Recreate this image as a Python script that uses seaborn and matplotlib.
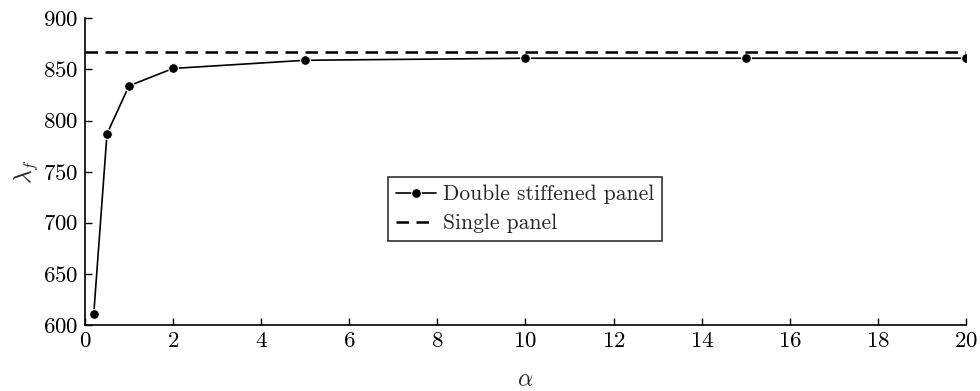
import matplotlib
matplotlib.use("Agg")
import matplotlib.pyplot as plt
import seaborn as sns
import pandas as pd

# Buckling load factor vs. stiffness ratio
alpha = [0.2, 0.5, 1.0, 2.0, 5.0, 10.0, 15.0, 20.0]
lambda_double = [611, 787, 834, 851, 859, 861, 861, 861]
lambda_single = 867

df = pd.DataFrame({"alpha": alpha, "lambda_f": lambda_double})

sns.set_theme(style="ticks")
plt.rcParams["font.family"] = ["cmr10", "DejaVu Serif"]
plt.rcParams["mathtext.fontset"] = "cm"
plt.rcParams["axes.formatter.use_mathtext"] = True

fig = plt.figure(figsize=(9.8, 3.91), dpi=100)
ax = fig.add_axes([0.0867, 0.169, 0.899, 0.784])

sns.lineplot(data=df, x="alpha", y="lambda_f", ax=ax, color="black",
             marker="o", markersize=7, linewidth=1.2,
             label="Double stiffened panel")
ax.axhline(lambda_single, color="black", linestyle=(0, (5, 3)),
           linewidth=1.8, label="Single panel")

ax.set_xlim(0, 20)
ax.set_ylim(600, 900)
ax.set_xticks(range(0, 21, 2))
ax.set_yticks(range(600, 901, 50))
ax.tick_params(direction="in", length=5, width=1, colors="black",
               labelsize=16.5, pad=5)
ax.set_xlabel(r"$\alpha$", fontsize=17, labelpad=13)
ax.set_ylabel(r"$\lambda_f$", fontsize=17, labelpad=2)

for side in ("top", "right"):
    ax.spines[side].set_visible(False)
for side in ("left", "bottom"):
    ax.spines[side].set_color("black")
    ax.spines[side].set_linewidth(1.2)

leg = ax.legend(loc="upper left", bbox_to_anchor=(0.344, 0.482),
                fontsize=15.5, frameon=True, fancybox=False,
                handlelength=1.9, handletextpad=0.3, borderpad=0.35,
                labelspacing=0.45, borderaxespad=0)
leg.get_frame().set_edgecolor("black")
leg.get_frame().set_linewidth(1.2)

fig.savefig("out.png", dpi=100)
